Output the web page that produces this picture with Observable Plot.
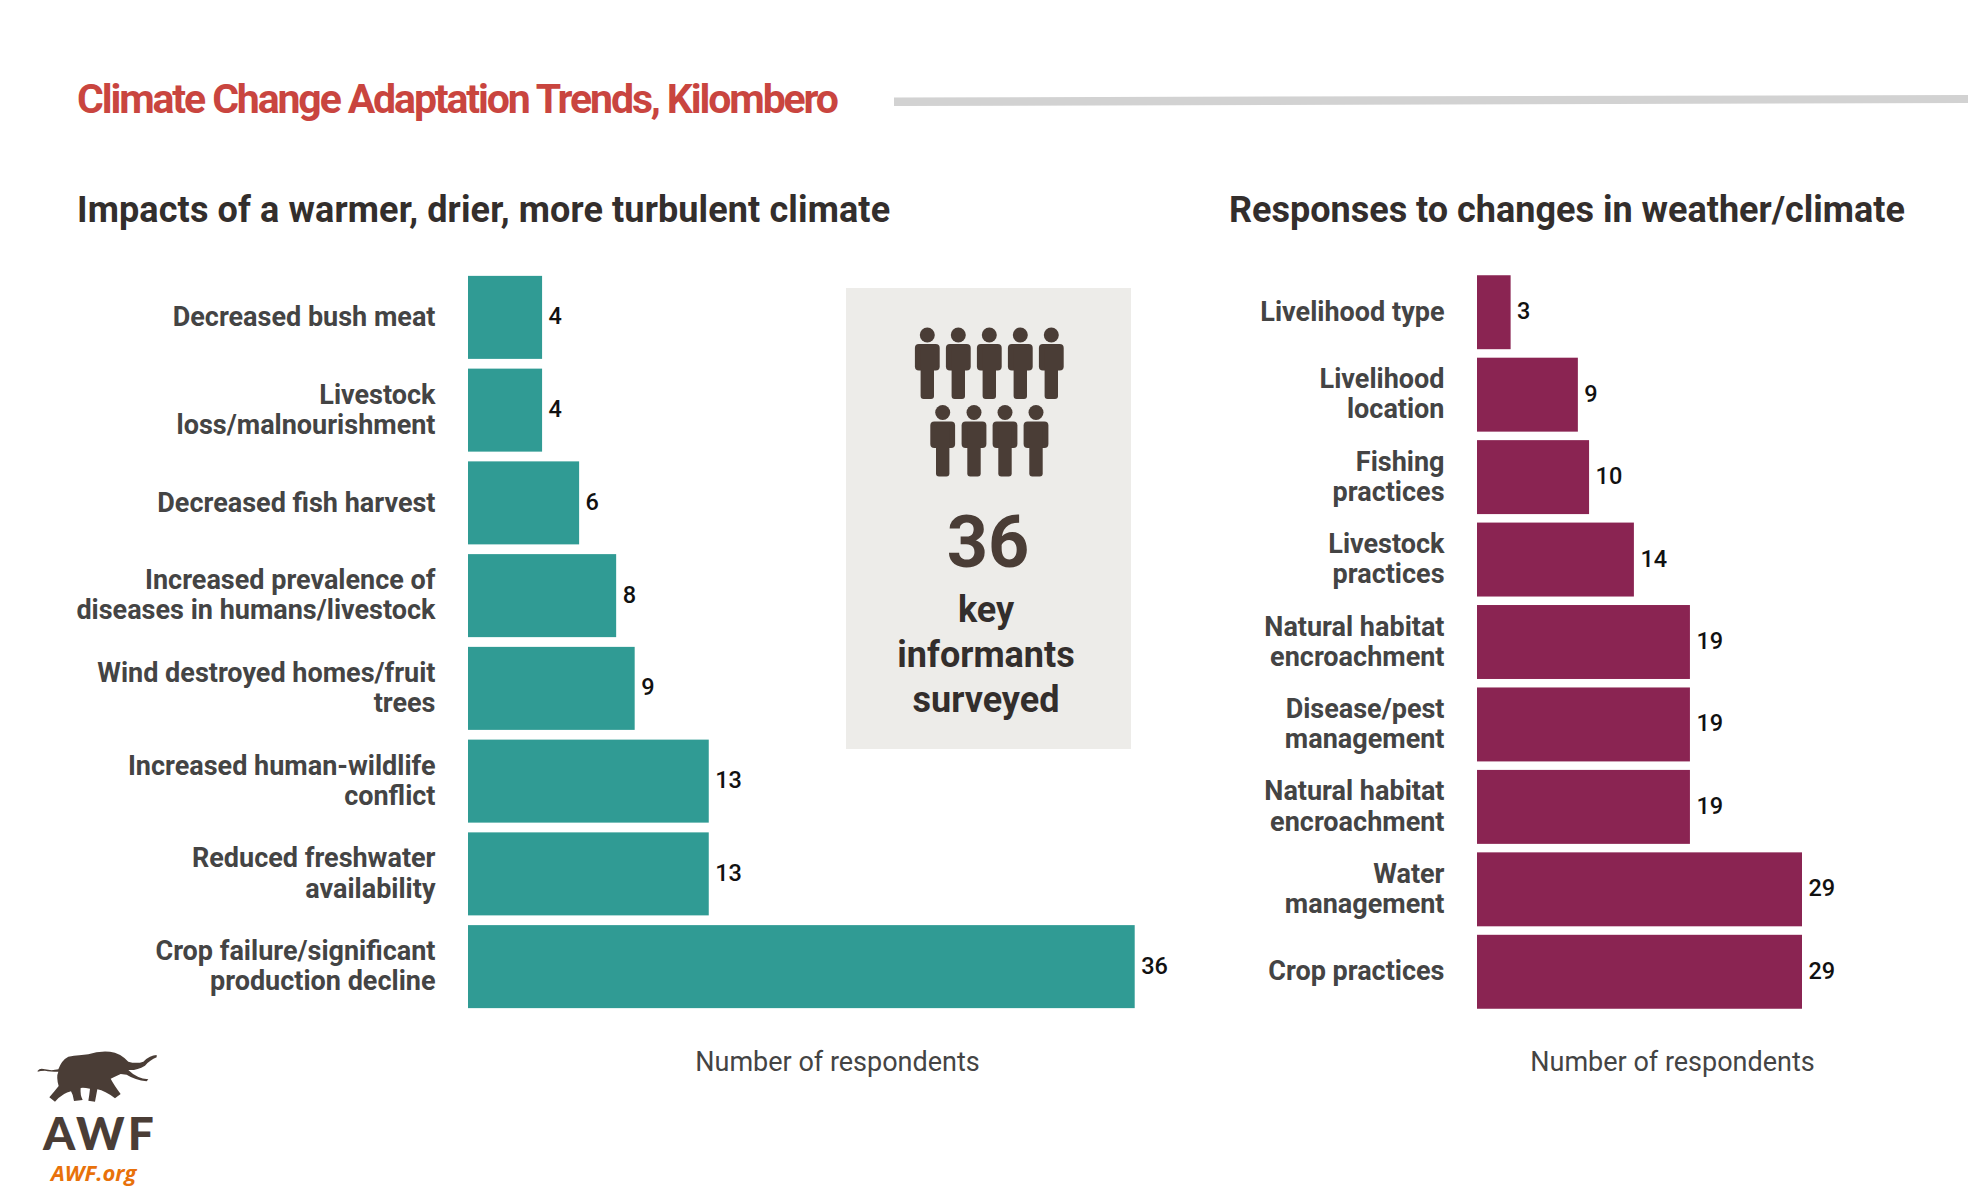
<!DOCTYPE html>
<html><head><meta charset="utf-8">
<script src="https://cdn.jsdelivr.net/npm/d3@7"></script>
<script src="https://cdn.jsdelivr.net/npm/@observablehq/plot@0.6"></script>
<style>
html,body{margin:0;padding:0;background:#fff;}
#page{position:relative;width:1968px;height:1200px;overflow:hidden;font-family:Roboto,sans-serif;}
.t{position:absolute;white-space:nowrap;line-height:1;}
#page svg.deco{position:absolute;left:0;top:0;}
.plot{position:absolute;top:0;}
.plot svg{overflow:visible;}
</style></head><body>
<div id="page">
<svg class="deco" width="1968" height="1200" viewBox="0 0 1968 1200" id="deco">
  <polygon points="894,97.5 1968,95 1968,103 894,106" fill="#d2d2d2"/>
  <rect x="846" y="288" width="285" height="461" fill="#edecE9"/>
  <g id="people" fill="#4a3d36"></g>
  <text x="988" y="567" text-anchor="middle" font-family="Roboto" font-weight="700" font-size="72" fill="#4a3d36">36</text>
  <g font-family="Roboto" font-weight="700" font-size="36" fill="#332e2c" text-anchor="middle">
    <text x="986" y="621.5">key</text>
    <text x="986" y="667">informants</text>
    <text x="986" y="711.5">surveyed</text>
  </g>
  <g transform="translate(0,1000) scale(0.33333)">
    <path fill="#4a3d36" d="M113 212 Q120 203 135 208 Q155 213 175 208 Q185 180 205 170 Q240 165 265 163 Q295 152 330 155 Q360 158 385 185 Q410 192 430 185 Q450 165 470 165 L470 172 Q450 180 435 197 Q410 212 385 210 Q410 235 445 238 L440 244 Q405 240 380 224 L362 222 Q345 230 332 236 Q342 255 362 282 L345 295 Q315 272 292 268 L285 305 L265 302 Q268 285 270 266 Q250 262 242 264 Q240 285 248 300 L222 303 Q220 285 213 274 Q190 278 165 305 L148 292 Q165 272 176 258 Q168 230 175 215 Q150 215 135 212 Q120 212 113 215 Z"/>
  </g>
  <text x="43" y="1150" font-family="Lato" font-weight="900" font-size="46" letter-spacing="3" fill="#4a3d36">AWF</text>
  <text x="51" y="1181" font-family="Open Sans" font-weight="700" font-style="italic" font-size="22" fill="#e8710a">AWF.org</text>
</svg>
<div class="t" style="left:77px;top:79px;font-size:41px;font-weight:700;letter-spacing:-2.13px;color:#c9453f;">Climate Change Adaptation Trends, Kilombero</div>
<div class="t" style="left:77px;top:192px;font-size:36px;font-weight:700;letter-spacing:0.12px;color:#332e2c;">Impacts of a warmer, drier, more turbulent climate</div>
<div class="t" style="left:1229px;top:192px;font-size:36px;font-weight:700;color:#332e2c;">Responses to changes in weather/climate</div>
</div>
<script>
const impactLabels = ["Decreased bush meat","Livestock\nloss/malnourishment","Decreased fish harvest","Increased prevalence of\ndiseases in humans/livestock","Wind destroyed homes/fruit\ntrees","Increased human-wildlife\nconflict","Reduced freshwater\navailability","Crop failure/significant\nproduction decline"];
const impactValues = [4,4,6,8,9,13,13,36];
const responseLabels = ["Livelihood type","Livelihood\nlocation","Fishing\npractices","Livestock\npractices","Natural habitat\nencroachment","Disease/pest\nmanagement","Natural habitat\nencroachment","Water\nmanagement","Crop practices"];
const responseValues = [3,9,10,14,19,19,19,29,29];
const axisTitle = "Number of respondents";

function chart({labels, values, color, left, width, marginLeft, xMax, padding}) {
  const rows = values.map((v,i)=>({i,v}));
  const p = Plot.plot({
    width, height: 1100, marginLeft, marginRight: 0, marginTop: 271, marginBottom: 87,
    style: {fontFamily: "Roboto", background: "transparent", overflow: "visible"},
    x: {domain: [0, xMax]},
    y: {domain: rows.map(d=>d.i), padding, paddingOuter: padding/2, align: 0.5, round: false},
    marks: [
      Plot.barX(rows, {x: "v", y: "i", fill: color}),
      Plot.text(rows, {x: "v", y: "i", text: d=>String(d.v), textAnchor: "start", dx: 6, dy: -1, fontSize: 23.5, fontWeight: 500, fill: "#111"}),
      Plot.axisY({tickSize: 0, tickPadding: 33, tickFormat: i=>labels[i], fontSize: 27, fontWeight: 700, fill: "#444", lineHeight: 1.115, dy: -1.5, label: null}),
      Plot.axisX({ticks: [], tickSize: 0, label: axisTitle, labelAnchor: "center", labelArrow: "none", labelOffset: 57, fontSize: 27, fontWeight: 400, fill: "#444"})
    ]
  });
  const w = document.createElement("div");
  w.className = "plot"; w.style.left = left + "px";
  w.appendChild(p);
  document.getElementById("page").appendChild(w);
}
chart({labels: impactLabels, values: impactValues, color: "#309b94", left: 0, width: 1206, marginLeft: 468, xMax: 39.85, padding: 0.105});
chart({labels: responseLabels, values: responseValues, color: "#8a2452", left: 1206, width: 661, marginLeft: 271, xMax: 34.8, padding: 0.103});

// decorative headcount pictogram
const ns = "http://www.w3.org/2000/svg";
const g = document.getElementById("people");
function person(cx, top) {
  const add = (tag, a) => { const e = document.createElementNS(ns, tag); for (const k in a) e.setAttribute(k, a[k]); g.appendChild(e); };
  add("circle", {cx, cy: top, r: 7.5});
  add("rect", {x: cx-12.4, y: top+9, width: 24.8, height: 26.5, rx: 4});
  add("rect", {x: cx-6.7, y: top+12, width: 13.4, height: 52, rx: 3});
}
[927.3,958.3,989.3,1020.3,1051.3].forEach(x=>person(x,335));
[942.7,974,1005,1036].forEach(x=>person(x,412.5));
</script>
</body></html>
